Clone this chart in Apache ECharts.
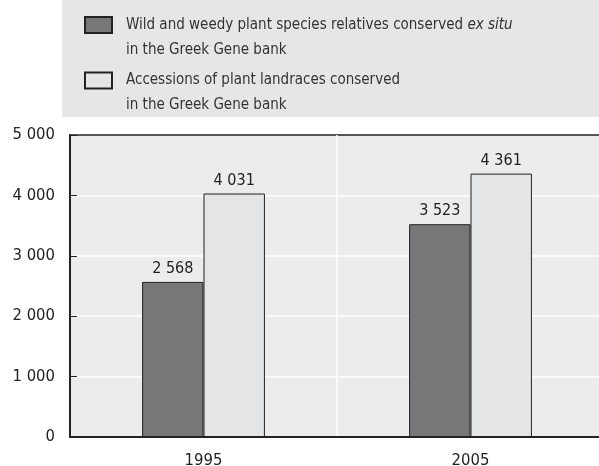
<!DOCTYPE html>
<html>
<head>
<meta charset="utf-8">
<script src="https://cdn.jsdelivr.net/npm/echarts@6/dist/echarts.min.js"></script>
<style>
  html, body { margin: 0; padding: 0; background: #ffffff; }
  #chart { width: 599px; height: 466px; }
</style>
</head>
<body>
<div id="chart"></div>
<script>
// Greek Gene bank holdings, 1995 vs 2005
const years = ['1995', '2005'];
const wildRelatives = [2568, 3523];
const landraceAccessions = [4031, 4361];
const seriesNames = ['Wild relatives', 'Landrace accessions'];
const yMin = 0, yMax = 5000, yStep = 1000;

const FONT = '"DejaVu Sans Condensed", "Liberation Sans", sans-serif';
const INK = '#222222';

// "4031" -> "4 031"
function spaced(v) {
  return String(Math.round(v)).replace(/\B(?=(\d{3})+(?!\d))/g, ' ');
}

const legendRich = {
  a: { fontFamily: FONT, fontSize: 15, lineHeight: 25, color: '#333333' },
  i: { fontFamily: FONT, fontSize: 15, lineHeight: 25, color: '#333333', fontStyle: 'italic' }
};

function legendBlock(top, name, text) {
  return {
    data: [name],
    left: 84,
    top: top,
    padding: 0,
    orient: 'vertical',
    itemWidth: 27,
    itemHeight: 16,
    selectedMode: false,
    icon: 'rect',
    formatter: () => text,
    textStyle: { padding: [25, 0, 0, 9], rich: legendRich }
  };
}

const chart = echarts.init(document.getElementById('chart'), null, { renderer: 'canvas' });

chart.setOption({
  animation: false,
  backgroundColor: '#ffffff',
  textStyle: { fontFamily: FONT },
  graphic: [{
    type: 'rect',
    silent: true,
    z: -10,
    shape: { x: 62, y: 0, width: 537, height: 117 },
    style: { fill: '#e6e6e8' }
  }],
  legend: [
    legendBlock(16, seriesNames[0],
      '{a|Wild and weedy plant species relatives conserved }{i|ex situ}\n{a|in the Greek Gene bank}'),
    legendBlock(71.5, seriesNames[1],
      '{a|Accessions of plant landraces conserved}\n{a|in the Greek Gene bank}')
  ],
  grid: {
    left: 70,
    top: 135,
    width: 534,
    height: 302,
    show: true,
    backgroundColor: '#ececec',
    borderColor: INK,
    borderWidth: 1.5,
    containLabel: false,
    outerBoundsMode: 'none'
  },
  xAxis: {
    type: 'category',
    data: years,
    axisLine: { lineStyle: { color: INK, width: 2 } },
    axisTick: { inside: true, length: 7, lineStyle: { color: INK, width: 1 } },
    axisLabel: { fontFamily: FONT, fontSize: 16.5, color: INK, margin: 15 },
    splitLine: {
      show: true, showMinLine: false, showMaxLine: false,
      lineStyle: { color: '#ffffff', width: 1.5 }
    }
  },
  yAxis: {
    type: 'value',
    min: yMin,
    max: yMax,
    interval: yStep,
    axisLine: { show: true, lineStyle: { color: INK, width: 2 } },
    axisTick: { show: true, inside: true, length: 7, lineStyle: { color: INK, width: 1 } },
    axisLabel: { fontFamily: FONT, fontSize: 16.5, color: INK, margin: 15, formatter: spaced },
    splitLine: {
      show: true, showMinLine: false, showMaxLine: false,
      lineStyle: { color: '#ffffff', width: 1.5 }
    }
  },
  series: [
    {
      name: seriesNames[0],
      type: 'bar',
      data: wildRelatives,
      barGap: '0%',
      barCategoryGap: '54%',
      itemStyle: { color: '#77777a', borderColor: INK, borderWidth: 1 },
      label: {
        show: true, position: 'top', distance: 5,
        fontFamily: FONT, fontSize: 16, color: INK,
        formatter: p => spaced(p.value)
      }
    },
    {
      name: seriesNames[1],
      type: 'bar',
      data: landraceAccessions,
      itemStyle: { color: '#e4e5e7', borderColor: INK, borderWidth: 1 },
      label: {
        show: true, position: 'top', distance: 5,
        fontFamily: FONT, fontSize: 16, color: INK,
        formatter: p => spaced(p.value)
      }
    }
  ]
});
</script>
</body>
</html>
